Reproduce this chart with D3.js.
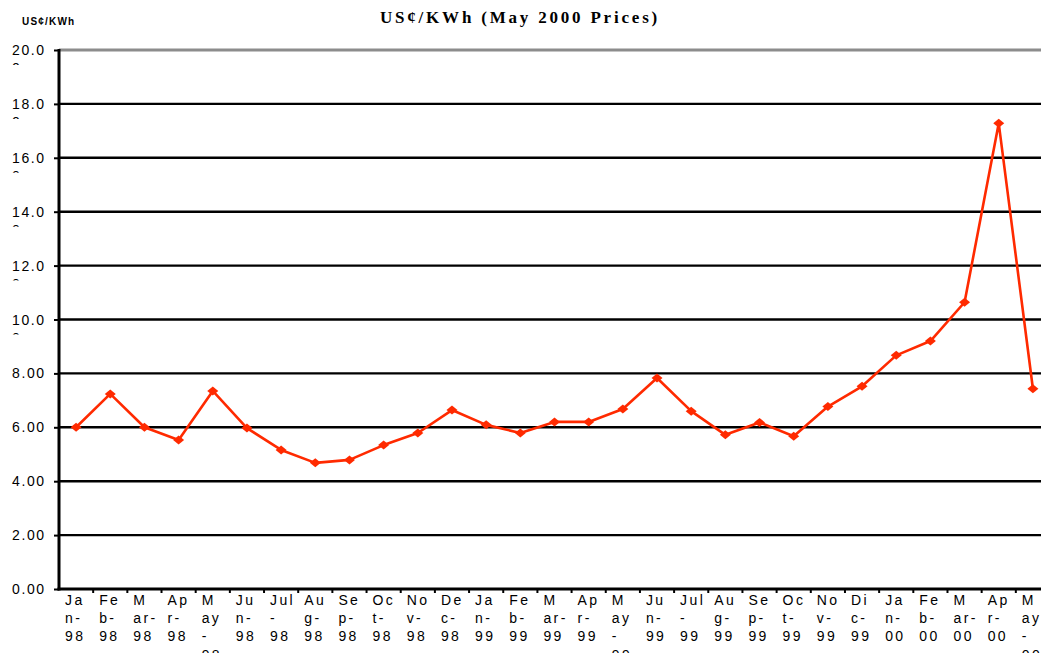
<!DOCTYPE html>
<html>
<head>
<meta charset="utf-8">
<script src="https://cdn.jsdelivr.net/npm/d3@7"></script>
<style>
  body { margin: 0; background: #fff; overflow: hidden; }
  svg { display: block; font-family: "Liberation Sans", Arial, sans-serif; }
</style>
</head>
<body>
<svg id="chart" width="1041" height="653"></svg>
<script>
// months as they were wrapped in the original (narrow category cells)
const months = [
  "Ja|n-|98", "Fe|b-|98", "M|ar-|98", "Ap|r-|98", "M|ay|-|98", "Ju|n-|98", "Jul|-|98",
  "Au|g-|98", "Se|p-|98", "Oc|t-|98", "No|v-|98", "De|c-|98",
  "Ja|n-|99", "Fe|b-|99", "M|ar-|99", "Ap|r-|99", "M|ay|-|99", "Ju|n-|99", "Jul|-|99",
  "Au|g-|99", "Se|p-|99", "Oc|t-|99", "No|v-|99", "Di|c-|99",
  "Ja|n-|00", "Fe|b-|00", "M|ar-|00", "Ap|r-|00", "M|ay|-|00"
];

const prices = [
  6.00, 7.24, 6.00, 5.53, 7.35, 5.97, 5.16, 4.68, 4.79, 5.34, 5.79, 6.64,
  6.09, 5.79, 6.20, 6.20, 6.68, 7.83, 6.60, 5.72, 6.18, 5.67, 6.77, 7.52,
  8.67, 9.20, 10.64, 17.28, 7.43
];

const yTicks = [0, 2, 4, 6, 8, 10, 12, 14, 16, 18, 20];
const yTickLabels = ["0.00", "2.00", "4.00", "6.00", "8.00", "10.0|0", "12.0|0", "14.0|0", "16.0|0", "18.0|0", "20.0|0"];

const svg = d3.select('#chart');
const width = +svg.attr('width');
const height = +svg.attr('height');

const margin = { top: 50, left: 59, bottom: 64 };
const plotRight = 1050; // the original plot runs past the visible edge

const xScale = d3.scaleBand()
    .domain(months)
    .range([margin.left, plotRight])
    .padding(0);

const yScale = d3.scaleLinear()
    .domain([0, 20])
    .range([height - margin.bottom, margin.top]);

// titles
svg.append('text')
    .attr('x', 22).attr('y', 25)
    .style('font-size', '10px').style('font-weight', 'bold')
    .style('letter-spacing', '1.2px')
    .text('US¢/KWh');

svg.append('text')
    .attr('x', 520).attr('y', 23)
    .attr('text-anchor', 'middle')
    .style('font-family', '"Liberation Serif", "Times New Roman", serif')
    .style('font-size', '17px').style('font-weight', 'bold')
    .style('letter-spacing', '2.8px')
    .text('US¢/KWh (May 2000 Prices)');

// gridlines
svg.append('g').selectAll('line')
    .data(yTicks.filter(d => d > 0))
    .enter().append('line')
    .attr('x1', margin.left).attr('x2', width)
    .attr('y1', d => yScale(d)).attr('y2', d => yScale(d))
    .attr('stroke', d => d === 20 ? '#8c8c8c' : '#000')
    .attr('stroke-width', d => d === 20 ? 3 : 2.4);

// y axis
const yAxis = d3.axisLeft(yScale)
    .tickValues(yTicks)
    .tickSize(5)
    .tickFormat('');

const yG = svg.append('g')
    .attr('transform', `translate(${margin.left},0)`)
    .call(yAxis);
yG.select('.domain').remove();
yG.selectAll('.tick line').attr('stroke', '#000').attr('stroke-width', 2);

svg.append('line')
    .attr('x1', margin.left).attr('x2', margin.left)
    .attr('y1', margin.top - 1).attr('y2', yScale(0) + 1.5)
    .attr('stroke', '#000').attr('stroke-width', 3);

// y labels; the wrapped second line only peeks out under the first
const defs = svg.append('defs');
yTicks.forEach((t, i) => {
  const parts = yTickLabels[i].split('|');
  const y = yScale(t);
  svg.append('text')
      .attr('x', 12).attr('y', y + 5)
      .style('font-size', '14px').style('letter-spacing', '1.6px')
      .text(parts[0]);
  if (parts[1]) {
    defs.append('clipPath').attr('id', 'yclip' + i)
      .append('rect').attr('x', 0).attr('y', y + 12).attr('width', 40).attr('height', 3);
    svg.append('text')
        .attr('clip-path', `url(#yclip${i})`)
        .attr('x', 12).attr('y', y + 23)
        .style('font-size', '14px')
        .text(parts[1]);
  }
});

// x axis
const xAxis = d3.axisBottom(xScale).tickSize(0).tickFormat('');
const xG = svg.append('g')
    .attr('transform', `translate(0,${yScale(0)})`)
    .call(xAxis);
xG.select('.domain').remove();

svg.append('line')
    .attr('x1', margin.left - 1.5).attr('x2', width)
    .attr('y1', yScale(0)).attr('y2', yScale(0))
    .attr('stroke', '#000').attr('stroke-width', 3);

svg.append('g').selectAll('line')
    .data(months)
    .enter().append('line')
    .attr('x1', d => xScale(d) + xScale.bandwidth()).attr('x2', d => xScale(d) + xScale.bandwidth())
    .attr('y1', yScale(0)).attr('y2', yScale(0) + 4)
    .attr('stroke', '#000').attr('stroke-width', 2);

const labels = svg.append('g').selectAll('text')
    .data(months)
    .enter().append('text')
    .attr('x', d => xScale(d) + 6)
    .attr('y', yScale(0) + 16)
    .style('font-size', '14px')
    .style('letter-spacing', '2.4px');

labels.selectAll('tspan')
    .data(d => d.split('|').map(s => ({ s, x: xScale(d) + 6 })))
    .enter().append('tspan')
    .attr('x', p => p.x)
    .attr('dy', (p, i) => i === 0 ? 0 : 18.2)
    .text(p => p.s);

// series
const line = d3.line()
    .x((d, i) => xScale(months[i]) + xScale.bandwidth() / 2)
    .y(d => yScale(d));

svg.append('path')
    .datum(prices)
    .attr('fill', 'none')
    .attr('stroke', '#ff2a00')
    .attr('stroke-width', 2.6)
    .attr('stroke-linejoin', 'round')
    .attr('d', line);

svg.append('g').selectAll('path')
    .data(prices)
    .enter().append('path')
    .attr('transform', (d, i) => `translate(${xScale(months[i]) + xScale.bandwidth() / 2},${yScale(d)})`)
    .attr('d', 'M-5.5,0L0,-4.5L5.5,0L0,4.5Z')
    .attr('fill', '#ff2a00');
</script>
</body>
</html>
